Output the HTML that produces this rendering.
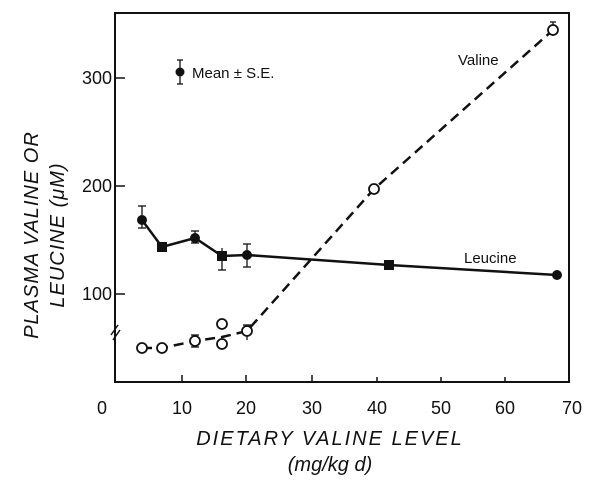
<!DOCTYPE html>
<html><head><style>body{margin:0;background:#fff}</style></head><body>
<svg width="600" height="491" viewBox="0 0 600 491" xmlns="http://www.w3.org/2000/svg" font-family="Liberation Sans, sans-serif" fill="#111">
<rect x="115" y="13" width="454" height="369" fill="none" stroke="#111" stroke-width="2"/>
<g stroke="#111" stroke-width="1.5">
<line x1="115" y1="78" x2="125" y2="78"/><line x1="115" y1="186" x2="125" y2="186"/><line x1="115" y1="294" x2="125" y2="294"/>
<line x1="182" y1="382" x2="182" y2="375"/><line x1="246" y1="382" x2="246" y2="375"/><line x1="312" y1="382" x2="312" y2="375"/><line x1="377" y1="382" x2="377" y2="377"/><line x1="441" y1="382" x2="441" y2="377"/><line x1="505" y1="382" x2="505" y2="377"/>
<line x1="111" y1="335" x2="118" y2="325"/><line x1="113" y1="340" x2="120" y2="330"/>
</g>
<g font-size="18" text-anchor="end"><text x="112" y="84">300</text><text x="112" y="192">200</text><text x="112" y="300">100</text></g>
<g font-size="18" text-anchor="middle"><text x="102" y="414">0</text><text x="182" y="414">10</text><text x="246" y="414">20</text><text x="312" y="414">30</text><text x="377" y="414">40</text><text x="441" y="414">50</text><text x="505" y="414">60</text><text x="572" y="414">70</text></g>
<g font-size="20" font-style="italic" text-anchor="middle">
<text transform="translate(38,235) rotate(-90)" letter-spacing="1">PLASMA VALINE OR</text>
<text transform="translate(64,235) rotate(-90)" letter-spacing="1">LEUCINE (μM)</text>
<text x="330" y="445" letter-spacing="2">DIETARY  VALINE LEVEL</text>
<text x="330" y="471">(mg/kg d)</text>
</g>
<g font-size="15"><text x="192" y="78">Mean ± S.E.</text><text x="458" y="65">Valine</text><text x="464" y="263">Leucine</text></g>
<circle cx="180" cy="72" r="4.5"/><g stroke="#111" stroke-width="1.3"><line x1="180" y1="60" x2="180" y2="84"/><line x1="177" y1="60" x2="183" y2="60"/><line x1="177" y1="84" x2="183" y2="84"/></g>
<polyline points="142,220 162,247 195,238 222,256 247,255 389,265 557,275" fill="none" stroke="#111" stroke-width="2.5"/>
<g stroke="#111" stroke-width="1.3">
<line x1="142" y1="206" x2="142" y2="228"/><line x1="138" y1="206" x2="146" y2="206"/><line x1="138" y1="228" x2="146" y2="228"/>
<line x1="195" y1="231" x2="195" y2="243"/><line x1="191" y1="231" x2="199" y2="231"/><line x1="191" y1="243" x2="199" y2="243"/>
<line x1="222" y1="248" x2="222" y2="270"/><line x1="218" y1="270" x2="226" y2="270"/>
<line x1="247" y1="244" x2="247" y2="267"/><line x1="243" y1="244" x2="251" y2="244"/><line x1="243" y1="267" x2="251" y2="267"/>
<line x1="247" y1="325" x2="247" y2="340"/><line x1="243" y1="325" x2="251" y2="325"/>
<line x1="195" y1="335" x2="195" y2="347"/><line x1="191" y1="335" x2="199" y2="335"/><line x1="191" y1="347" x2="199" y2="347"/>
<line x1="553" y1="22" x2="553" y2="36"/><line x1="550" y1="22" x2="556" y2="22"/>
</g>
<g><circle cx="142" cy="220" r="5"/><rect x="157" y="242" width="10" height="10"/><circle cx="195" cy="238" r="5"/><rect x="217" y="251" width="10" height="10"/><circle cx="247" cy="255" r="5"/><rect x="384" y="260" width="10" height="10"/><circle cx="557" cy="275" r="5"/></g>
<polyline points="142,348 162,348 195,341 222,337 247,331 374,189 553,30" fill="none" stroke="#111" stroke-width="2.5" stroke-dasharray="10,6"/>
<g fill="#fff" stroke="#111" stroke-width="1.8">
<circle cx="142" cy="348" r="5"/><circle cx="162" cy="348" r="5"/><circle cx="195" cy="341" r="5"/><circle cx="222" cy="344" r="5"/><circle cx="222" cy="324" r="5"/><circle cx="247" cy="331" r="5"/><circle cx="374" cy="189" r="5"/><circle cx="553" cy="30" r="5"/>
</g>
</svg>
</body></html>
